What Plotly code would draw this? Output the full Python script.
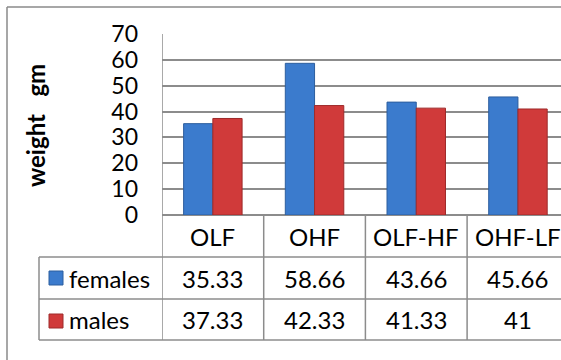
import plotly.graph_objects as go

categories = ["OLF", "OHF", "OLF-HF", "OHF-LF"]
females = [35.33, 58.66, 43.66, 45.66]
males = [37.33, 42.33, 41.33, 41]
female_labels = ["35.33", "58.66", "43.66", "45.66"]
male_labels = ["37.33", "42.33", "41.33", "41"]
y_ticks = [0, 10, 20, 30, 40, 50, 60, 70]

FONT = "Lato, Carlito, Calibri, 'Open Sans', sans-serif"
BLUE = "#3B7BCD"
BLUE_EDGE = "#2D5E9E"
RED = "#D03A3A"
RED_EDGE = "#9E2A2A"
GRID = "#8C8C8C"

# layout geometry (pixels)
W_FIG, H_FIG = 561, 360
L, T = 162, 34
PLOT_BOTTOM = 215
PLOT_H = PLOT_BOTTOM - T
PLOT_W = W_FIG - L
CAT_W = 101.7


def py(p):
    return (PLOT_BOTTOM - p) / PLOT_H


def px(p):
    return (p - L) / PLOT_W


fig = go.Figure()
fig.add_trace(go.Bar(x=categories, y=females, name="females",
                     marker=dict(color=BLUE, line=dict(color=BLUE_EDGE, width=1))))
fig.add_trace(go.Bar(x=categories, y=males, name="males",
                     marker=dict(color=RED, line=dict(color=RED_EDGE, width=1))))

x_max = -0.5 + PLOT_W / CAT_W

shapes = []
line = dict(color=GRID, width=1.5)
# outer chart border
shapes.append(dict(type="line", xref="paper", yref="paper", x0=px(7), x1=px(600),
                   y0=py(7), y1=py(7), line=dict(color="#8A8A8A", width=1.5)))
shapes.append(dict(type="line", xref="paper", yref="paper", x0=px(7), x1=px(7),
                   y0=py(7), y1=py(400), line=dict(color="#8A8A8A", width=1.5)))
# table horizontal lines
for yy in [257, 299, 340]:
    shapes.append(dict(type="line", xref="paper", yref="paper", x0=px(39), x1=px(600),
                       y0=py(yy), y1=py(yy), line=line))
shapes.append(dict(type="line", xref="paper", yref="paper", x0=px(39), x1=px(39),
                   y0=py(257), y1=py(340), line=line))
# column separators, from category scale
for i in range(len(categories) + 1):
    top = py(T) if i == 0 else py(PLOT_BOTTOM)
    shapes.append(dict(type="line", xref="x", yref="paper", x0=i - 0.5, x1=i - 0.5,
                       y0=top, y1=py(340), line=line))
# legend keys
shapes.append(dict(type="rect", xref="paper", yref="paper", x0=px(49), x1=px(63),
                   y0=py(271), y1=py(285), fillcolor=BLUE, line=dict(color=BLUE_EDGE, width=1)))
shapes.append(dict(type="rect", xref="paper", yref="paper", x0=px(49), x1=px(63),
                   y0=py(314), y1=py(328), fillcolor=RED, line=dict(color=RED_EDGE, width=1)))

annotations = []
tfont = dict(family=FONT, size=24, color="black")
for i, c in enumerate(categories):
    annotations.append(dict(x=i, y=py(236), xref="x", yref="paper", text=c,
                            showarrow=False, font=tfont, xanchor="center", yanchor="middle"))
    annotations.append(dict(x=i, y=py(278), xref="x", yref="paper", text=female_labels[i],
                            showarrow=False, font=tfont, xanchor="center", yanchor="middle"))
    annotations.append(dict(x=i, y=py(319.5), xref="x", yref="paper", text=male_labels[i],
                            showarrow=False, font=tfont, xanchor="center", yanchor="middle"))
annotations.append(dict(x=px(67), y=py(278), xref="paper", yref="paper", text="females",
                        showarrow=False, font=tfont, xanchor="left", yanchor="middle"))
annotations.append(dict(x=px(67), y=py(319.5), xref="paper", yref="paper", text="males",
                        showarrow=False, font=tfont, xanchor="left", yanchor="middle"))
annotations.append(dict(x=px(35), y=py(126), xref="paper", yref="paper",
                        text="<b>weight&nbsp;&nbsp;&nbsp;gm</b>",
                        showarrow=False, textangle=-90,
                        font=dict(family=FONT, size=24, color="black"),
                        xanchor="center", yanchor="middle"))

fig.update_layout(
    width=W_FIG, height=H_FIG,
    margin=dict(l=L, r=0, t=T, b=H_FIG - PLOT_BOTTOM, pad=0),
    paper_bgcolor="white", plot_bgcolor="white",
    barmode="group", bargap=0.425, bargroupgap=0,
    showlegend=False,
    shapes=shapes, annotations=annotations,
    xaxis=dict(range=[-0.5, x_max], showticklabels=False, showgrid=False,
               zeroline=False, showline=False, ticks=""),
    yaxis=dict(range=[0, 70], tickvals=y_ticks, ticktext=[str(v) for v in y_ticks],
               showgrid=True, gridcolor=GRID, gridwidth=1.5,
               zeroline=True, zerolinecolor=GRID, zerolinewidth=1.5,
               showline=False, ticks="", ticklabelstandoff=23,
               tickfont=dict(family=FONT, size=23, color="black")),
)

fig.write_html("out.html")
